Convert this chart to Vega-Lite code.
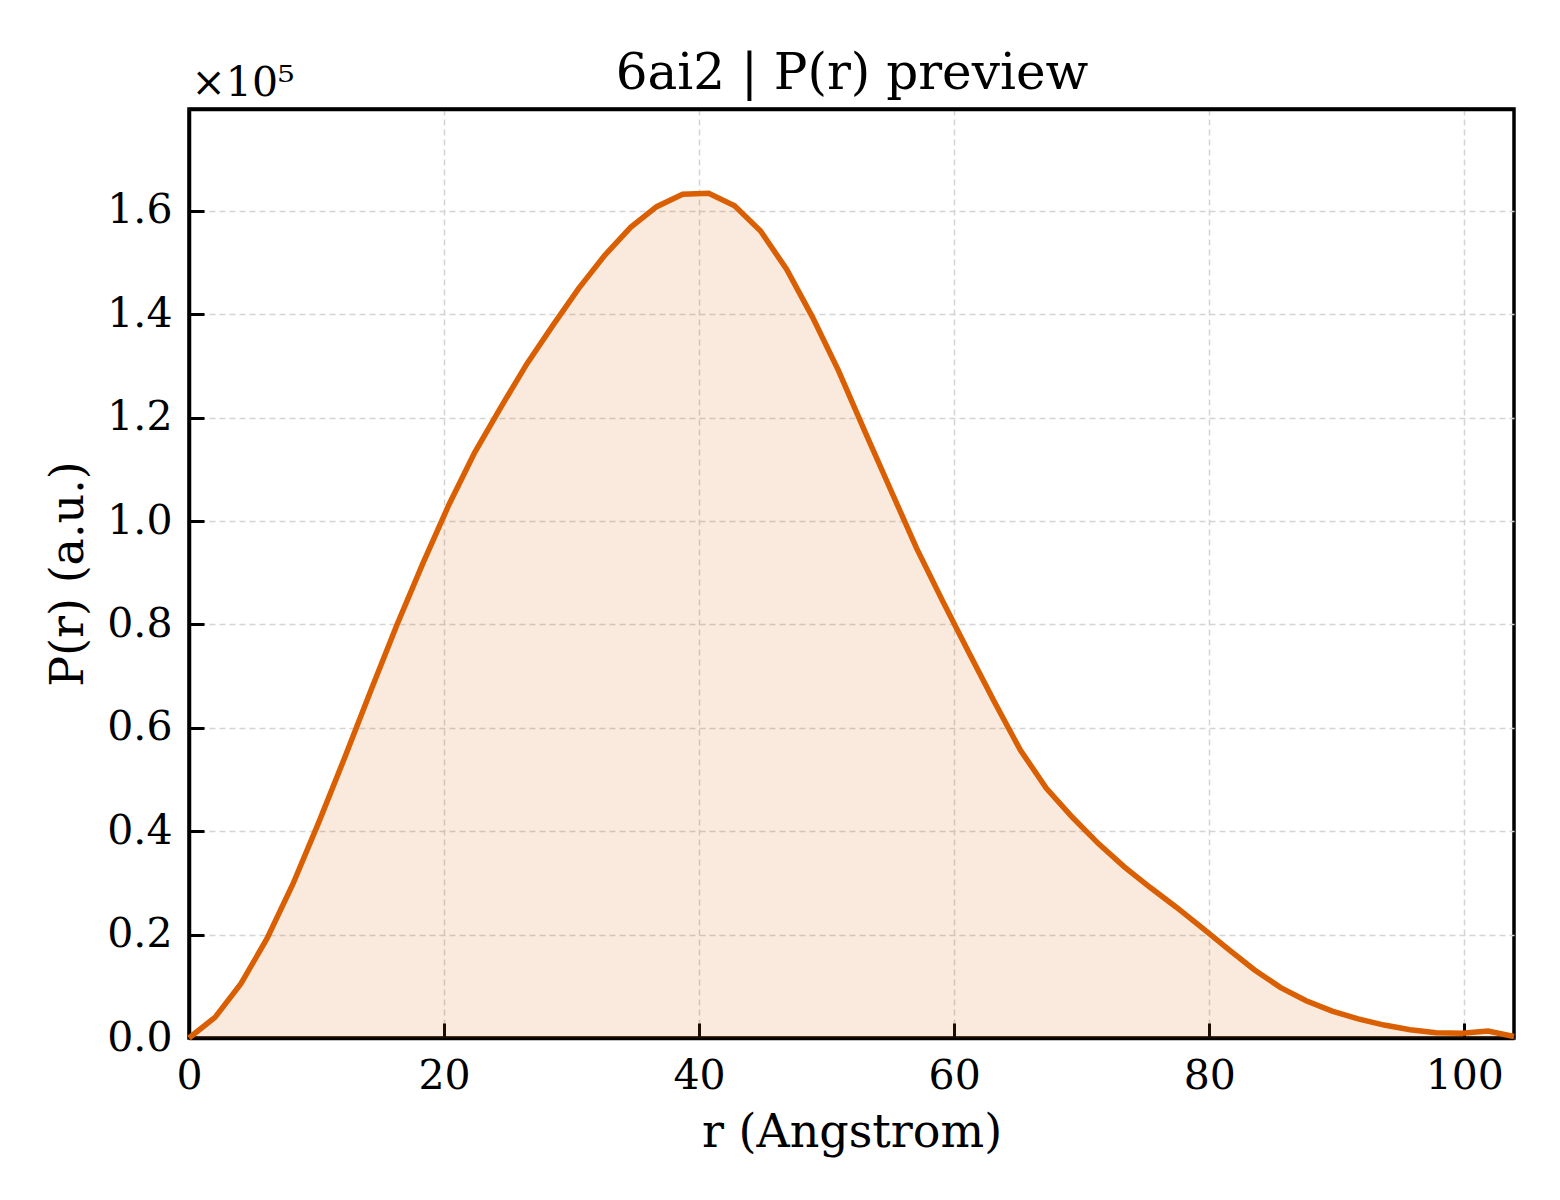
{
  "$schema": "https://vega.github.io/schema/vega-lite/v6.json",
  "width": 1325,
  "height": 929,
  "autosize": {"type": "none"},
  "padding": {"left": 189, "top": 109, "right": 46, "bottom": 162},
  "background": "white",
  "view": {"stroke": "black", "strokeWidth": 3.5},
  "config": {
    "font": "DejaVu Serif",
    "axis": {
      "labelFont": "DejaVu Serif",
      "titleFont": "DejaVu Serif",
      "titleFontWeight": "normal",
      "labelColor": "black",
      "titleColor": "black"
    }
  },
  "data": {
    "values": [
      {"r": 0.00, "P": 0},
      {"r": 2.04, "P": 4000},
      {"r": 4.07, "P": 10500},
      {"r": 6.11, "P": 19200},
      {"r": 8.15, "P": 29800},
      {"r": 10.19, "P": 41800},
      {"r": 12.22, "P": 54300},
      {"r": 14.26, "P": 67200},
      {"r": 16.30, "P": 79900},
      {"r": 18.34, "P": 91800},
      {"r": 20.37, "P": 103100},
      {"r": 22.41, "P": 113300},
      {"r": 24.45, "P": 122000},
      {"r": 26.49, "P": 130400},
      {"r": 28.52, "P": 137800},
      {"r": 30.56, "P": 145000},
      {"r": 32.60, "P": 151400},
      {"r": 34.63, "P": 156800},
      {"r": 36.67, "P": 160800},
      {"r": 38.71, "P": 163200},
      {"r": 40.75, "P": 163400},
      {"r": 42.78, "P": 161000},
      {"r": 44.82, "P": 156100},
      {"r": 46.86, "P": 148700},
      {"r": 48.90, "P": 139400},
      {"r": 50.93, "P": 129100},
      {"r": 52.97, "P": 117500},
      {"r": 55.01, "P": 106100},
      {"r": 57.04, "P": 94800},
      {"r": 59.08, "P": 84600},
      {"r": 61.12, "P": 74700},
      {"r": 63.16, "P": 65000},
      {"r": 65.19, "P": 55700},
      {"r": 67.23, "P": 48300},
      {"r": 69.27, "P": 42700},
      {"r": 71.31, "P": 37600},
      {"r": 73.34, "P": 33100},
      {"r": 75.38, "P": 29100},
      {"r": 77.42, "P": 25300},
      {"r": 79.45, "P": 21300},
      {"r": 81.49, "P": 17200},
      {"r": 83.53, "P": 13200},
      {"r": 85.57, "P": 9800},
      {"r": 87.60, "P": 7200},
      {"r": 89.64, "P": 5200},
      {"r": 91.68, "P": 3700},
      {"r": 93.72, "P": 2500},
      {"r": 95.75, "P": 1600},
      {"r": 97.79, "P": 1000},
      {"r": 99.83, "P": 900},
      {"r": 101.87, "P": 1350},
      {"r": 103.90, "P": 300}
    ]
  },
  "layer": [
    {
      "mark": {"type": "area", "color": "#d95f02", "opacity": 0.13},
      "encoding": {
        "x": {
          "field": "r",
          "type": "quantitative",
          "scale": {"domain": [0, 103.9], "nice": false, "zero": false},
          "axis": {
            "orient": "bottom",
            "values": [0, 20, 40, 60, 80, 100],
            "format": "d",
            "labelFontSize": 41,
            "labelFlush": false,
            "labelOverlap": false,
            "labelPadding": 33,
            "tickSize": -15,
            "tickWidth": 3,
            "tickColor": "black",
            "domain": true,
            "domainColor": "black",
            "domainWidth": 3.5,
            "grid": true,
            "gridColor": "#d4d4d4",
            "gridDash": [6, 4],
            "gridWidth": 1.5,
            "title": "r (Angstrom)",
            "titleFontSize": 46,
            "titleX": 662.5,
            "titleY": 108,
            "titleAlign": "center",
            "titleBaseline": "alphabetic"
          }
        },
        "y": {
          "field": "P",
          "type": "quantitative",
          "scale": {"domain": [0, 179700], "nice": false},
          "axis": {
            "orient": "left",
            "values": [0, 20000, 40000, 60000, 80000, 100000, 120000, 140000, 160000],
            "labelExpr": "format(datum.value / 100000, '.1f')",
            "labelFontSize": 41,
            "labelFlush": false,
            "labelOverlap": false,
            "labelPadding": 32,
            "tickSize": -15,
            "tickWidth": 3,
            "tickColor": "black",
            "domain": true,
            "domainColor": "black",
            "domainWidth": 3.5,
            "grid": true,
            "gridColor": "#d4d4d4",
            "gridDash": [6, 4],
            "gridWidth": 1.5,
            "title": "P(r) (a.u.)",
            "titleFontSize": 46,
            "titleAngle": 270,
            "titleX": -107,
            "titleY": 464.5,
            "titleAlign": "center",
            "titleBaseline": "alphabetic"
          }
        }
      }
    },
    {
      "mark": {"type": "line", "color": "#d95f02", "strokeWidth": 5.5},
      "encoding": {
        "x": {
          "field": "r",
          "type": "quantitative",
          "axis": {
            "orient": "top",
            "labels": false,
            "ticks": false,
            "domain": true,
            "domainColor": "black",
            "domainWidth": 3.5,
            "grid": false,
            "title": "6ai2 | P(r) preview",
            "titleFontSize": 50,
            "titleAngle": 0,
            "titleX": 662.5,
            "titleY": -21,
            "titleAlign": "center",
            "titleBaseline": "alphabetic"
          }
        },
        "y": {
          "field": "P",
          "type": "quantitative",
          "axis": {
            "orient": "left",
            "labels": false,
            "ticks": false,
            "domain": false,
            "grid": false,
            "title": "×10⁵",
            "titleFontSize": 41,
            "titleAngle": 0,
            "titleX": 2,
            "titleY": -14,
            "titleAlign": "left",
            "titleBaseline": "alphabetic"
          }
        }
      }
    }
  ],
  "resolve": {"axis": {"x": "independent", "y": "independent"}}
}
